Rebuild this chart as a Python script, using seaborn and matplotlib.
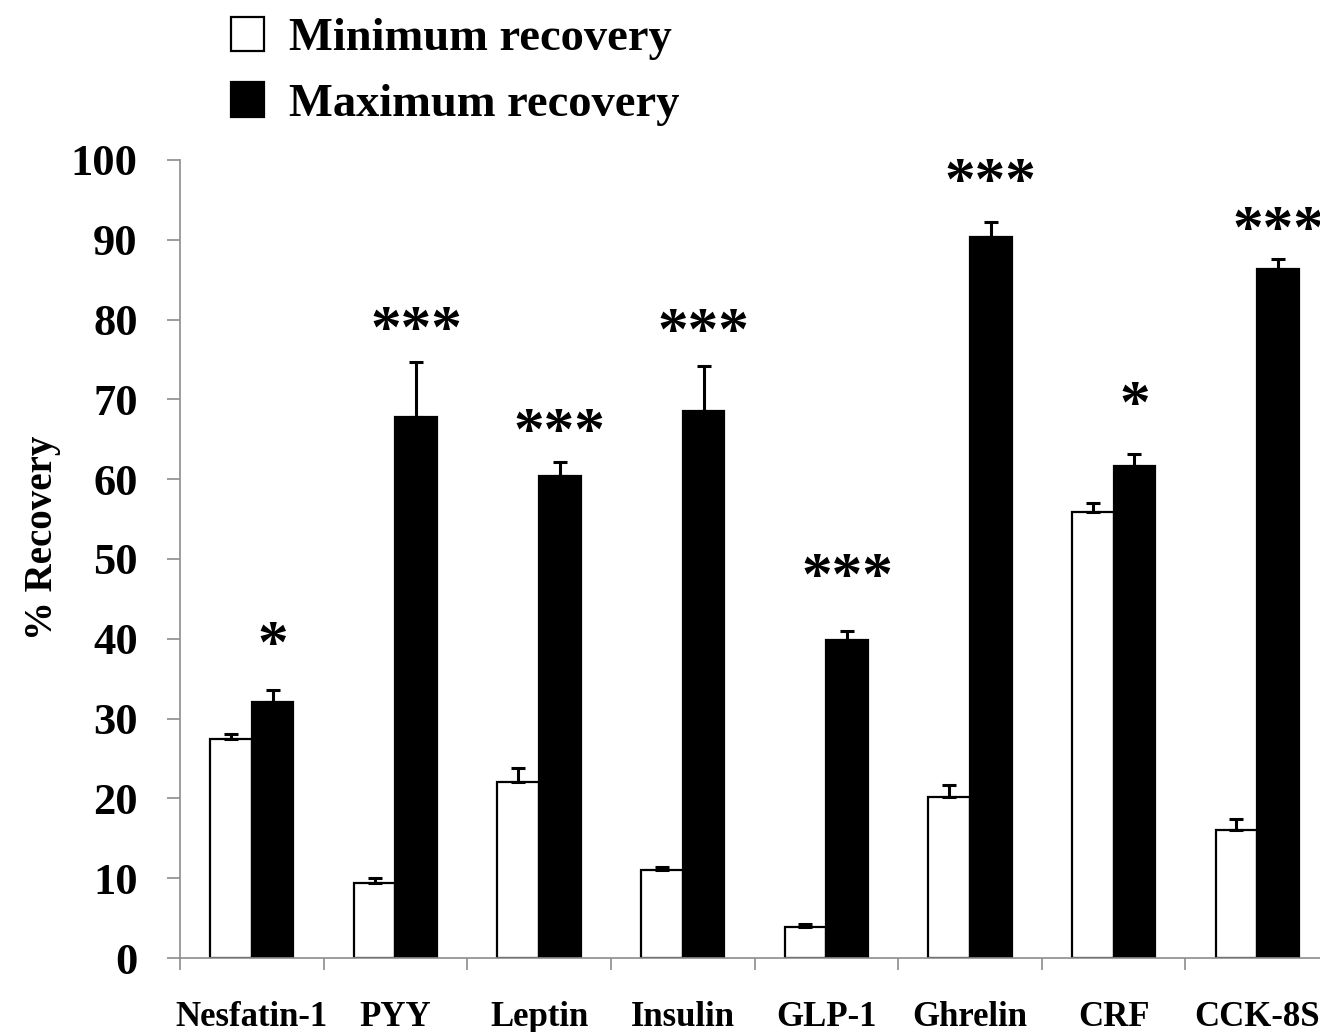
import matplotlib
matplotlib.use("Agg")
import matplotlib.pyplot as plt
import numpy as np
import pandas as pd
import seaborn as sns

# Recovery of peptides (mean + SEM), minimum vs. maximum recovery conditions
peptides = ["Nesfatin-1", "PYY", "Leptin", "Insulin", "GLP-1", "Ghrelin", "CRF", "CCK-8S"]
series_names = ["Minimum recovery", "Maximum recovery"]
min_recovery = [27.4, 9.4, 22.0, 11.0, 3.9, 20.2, 55.9, 16.0]
min_sem = [0.7, 0.6, 1.8, 0.4, 0.3, 1.5, 1.1, 1.4]
max_recovery = [32.1, 67.8, 60.4, 68.5, 39.8, 90.4, 61.7, 86.3]
max_sem = [1.5, 6.9, 1.7, 5.7, 1.2, 1.8, 1.5, 1.3]
significance = ["*", "***", "***", "***", "***", "***", "*", "***"]
star_heights = [40.5, 80.0, 67.2, 79.7, 49.0, 98.5, 70.6, 92.5]
y_ticks = list(range(0, 101, 10))

df = pd.DataFrame({
    "peptide": peptides * 2,
    "recovery": min_recovery + max_recovery,
    "sem": min_sem + max_sem,
    "series": [series_names[0]] * len(peptides) + [series_names[1]] * len(peptides),
})

sns.set_theme(style="white")
plt.rcParams["font.family"] = ["Liberation Serif", "DejaVu Serif"]
plt.rcParams["font.weight"] = "bold"
plt.rcParams["text.color"] = "black"
plt.rcParams["axes.labelcolor"] = "black"

fig = plt.figure(figsize=(13.2, 10.32), dpi=100)
fig.patch.set_facecolor("white")
ax = fig.add_axes([180 / 1320, 74 / 1032, 1149 / 1320, 798 / 1032])

sns.barplot(data=df, x="peptide", y="recovery", hue="series",
            order=peptides, hue_order=series_names,
            palette=["white", "black"], edgecolor="black", linewidth=1.6,
            width=0.58, errorbar=None, ax=ax)

# one-sided SEM error bars on top of each bar
sems = [min_sem, max_sem]
for container, err in zip(ax.containers, sems):
    xs = [b.get_x() + b.get_width() / 2 for b in container]
    hs = [b.get_height() for b in container]
    ax.errorbar(xs, hs, yerr=[np.zeros(len(err)), err], fmt="none",
                ecolor="black", elinewidth=2.2, capsize=4.8, capthick=2.2,
                zorder=3)

# significance markers above the maximum-recovery bars
for bar, mark, h in zip(ax.containers[1], significance, star_heights):
    ax.annotate(mark, xy=(bar.get_x() + bar.get_width() / 2, h),
                xytext=(0, -9), textcoords="offset points",
                ha="center", va="center", fontsize=44, fontweight="bold",
                color="black", annotation_clip=False)

ax.set_xlim(-0.5, len(peptides) - 0.5)
ax.set_ylim(0, 100)
ax.set_yticks(y_ticks)
ax.set_yticklabels([str(t) for t in y_ticks], fontsize=32, fontweight="bold")
ax.set_xticks(range(len(peptides)))
ax.set_xticklabels(peptides, fontsize=25, fontweight="bold")
ax.set_xticks(np.arange(-0.5, len(peptides) + 0.5, 1.0), minor=True)
ax.tick_params(axis="y", which="major", direction="out", length=9.4, width=1.2,
               color="#8c8c8c", labelcolor="black", pad=21, left=True)
ax.tick_params(axis="x", which="major", length=0, pad=31, bottom=True,
               labelcolor="black")
ax.tick_params(axis="x", which="minor", direction="out", length=8.6, width=1.2,
               color="#8c8c8c", bottom=True)

ax.set_xlabel("")
ax.set_ylabel("% Recovery", fontsize=28, fontweight="bold", color="black")
ax.yaxis.set_label_coords(-0.104, 0.526)

for side in ["top", "right"]:
    ax.spines[side].set_visible(False)
for side in ["left", "bottom"]:
    ax.spines[side].set_color("#8c8c8c")
    ax.spines[side].set_linewidth(1.2)

handles, labels = ax.get_legend_handles_labels()
leg = ax.legend(handles, labels, loc="upper left",
                bbox_to_anchor=(231 / 1320, 1 - 17 / 1032),
                bbox_transform=fig.transFigure, frameon=False,
                prop={"family": ["Liberation Serif"], "weight": "bold", "size": 33.5},
                handlelength=0.71, handleheight=0.76, handletextpad=0.54,
                labelspacing=0.47, borderpad=0, borderaxespad=0)
for t in leg.get_texts():
    t.set_color("black")

fig.savefig("out.png", dpi=100, facecolor="white")
